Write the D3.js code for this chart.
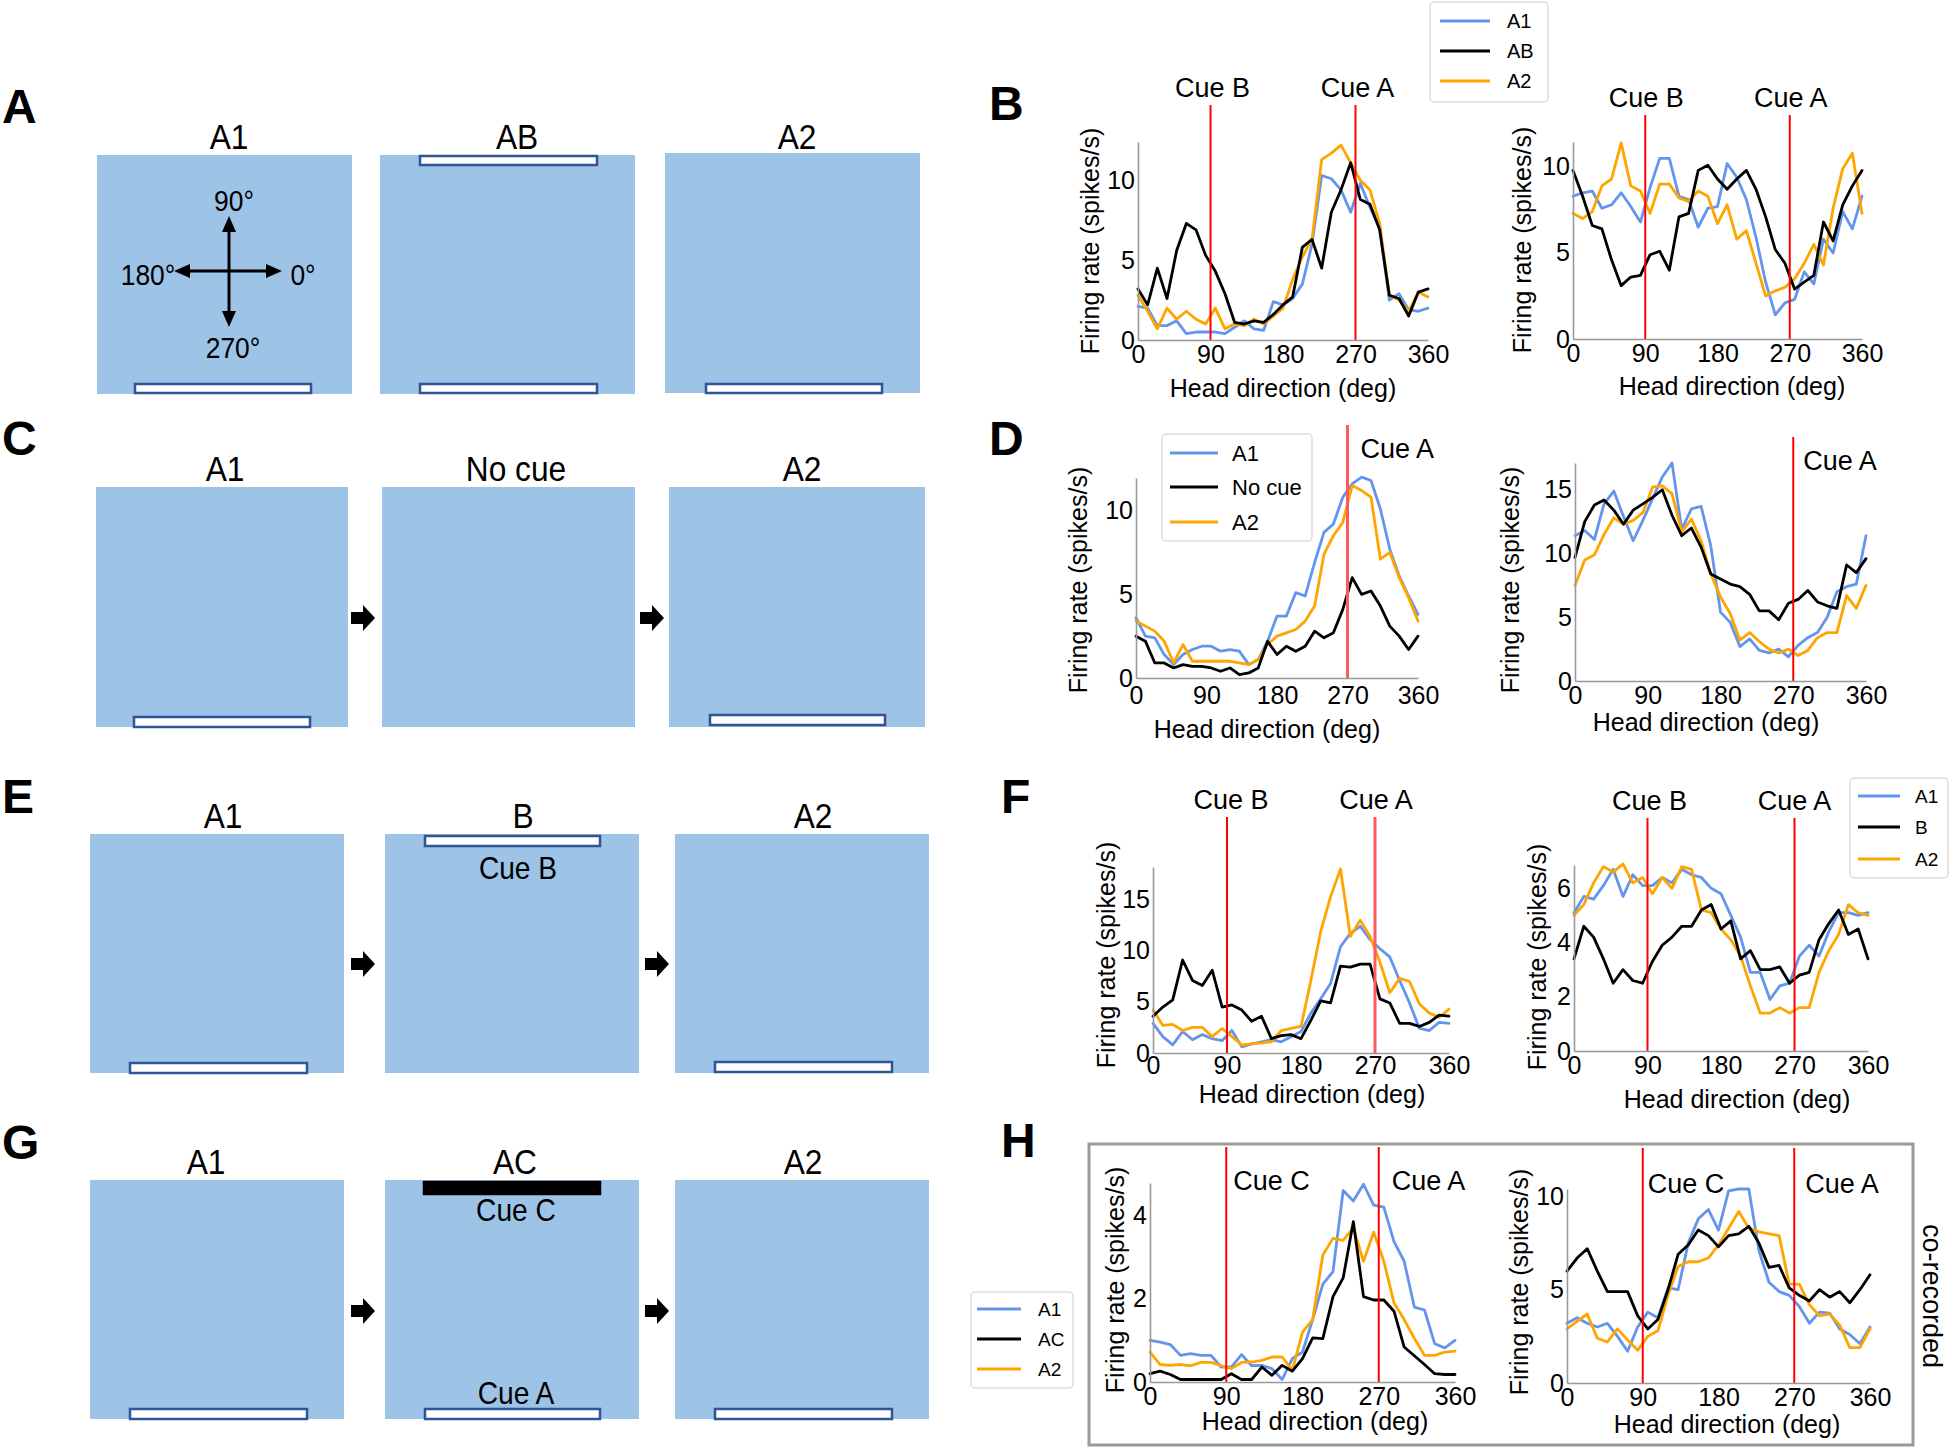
<!DOCTYPE html>
<html><head><meta charset="utf-8">
<script src="https://cdn.jsdelivr.net/npm/d3@7"></script>
<style>
body{margin:0;background:#fff;}
svg{display:block;}
text{font-family:"Liberation Sans",Arial,Helvetica,sans-serif;fill:#000;}
</style>
</head><body>
<svg id="fig" width="1950" height="1447"></svg>
<script>
// ---------- DATA ----------
const angles = [0,12,24,36,48,60,72,84,96,108,120,132,144,156,168,180,192,204,216,228,240,252,264,276,288,300,312,324,336,348,360];
const xTickValues = [0,90,180,270,360];

// Panel B
const bLeftA1 = [2.1,2.0,0.9,0.9,1.2,0.4,0.5,0.5,0.5,0.4,0.8,1.2,0.7,0.6,2.4,2.2,2.6,3.5,6.0,10.3,10.1,9.4,8.0,9.8,8.3,7.0,2.5,2.9,1.9,1.8,2.0];
const bLeftAB = [3.2,2.2,4.5,2.6,5.6,7.3,6.9,5.3,4.3,2.9,1.1,1.0,1.2,1.1,1.6,2.2,2.7,5.8,6.3,4.5,8.0,9.4,11.1,8.8,8.5,6.9,2.8,2.6,1.5,3.0,3.2];
const bLeftA2 = [2.8,1.8,0.7,2.0,1.3,1.8,1.3,1.0,2.0,0.7,1.0,0.9,1.3,1.0,1.5,2.0,3.8,5.2,6.3,11.3,11.7,12.2,11.1,10.0,9.4,7.3,2.8,2.5,1.8,3.0,2.7];
const bRightA1 = [8.3,8.5,8.6,7.6,7.8,8.5,7.7,6.8,8.8,10.5,10.5,8.3,8.1,6.5,7.6,7.7,10.2,9.4,8.1,5.9,3.3,1.4,2.1,2.3,3.9,3.2,5.8,5.0,7.4,6.4,8.3];
const bRightAB = [9.8,8.3,6.6,6.4,4.6,3.1,3.6,3.7,4.9,5.1,4.0,7.1,7.3,9.8,10.1,9.3,8.7,9.3,9.8,8.7,7.1,5.2,4.4,2.9,3.3,3.7,6.8,5.7,7.8,8.9,9.8];
const bRightA2 = [7.3,7.0,7.4,8.9,9.3,11.4,8.9,8.6,7.3,9.0,9.0,8.2,8.0,8.6,8.3,6.7,7.8,5.8,6.3,4.4,2.5,2.8,3.0,3.5,4.4,5.5,4.3,7.6,9.9,10.8,7.3];

// Panel D
const dLeftA1 = [3.6,2.5,2.4,1.4,0.8,1.4,1.7,1.9,1.9,1.6,1.7,1.6,0.8,1.1,2.2,3.7,3.7,5.1,4.9,6.9,8.7,9.2,10.8,11.6,12.0,11.8,10.1,7.7,6.1,4.9,3.8];
const dLeftNoCue = [2.5,2.2,0.9,0.9,0.6,0.8,0.7,0.7,0.6,0.4,0.6,0.2,0.3,0.6,2.2,1.4,1.9,1.6,1.9,2.8,2.4,2.7,4.1,6.0,5.0,5.2,4.3,3.1,2.5,1.7,2.5];
const dLeftA2 = [3.4,3.1,2.8,2.2,0.9,2.0,1.0,1.0,1.0,1.0,1.0,0.9,0.8,1.1,2.0,2.5,2.7,2.9,3.4,4.3,7.4,8.5,9.3,11.5,11.2,10.8,7.1,7.5,6.0,4.8,3.4];
const dRightA1 = [11.4,11.8,11.1,13.9,14.9,12.9,11.0,12.6,14.3,16.0,17.1,11.9,13.5,13.7,10.6,5.4,4.6,2.7,3.3,2.4,2.2,2.5,1.9,2.8,3.4,3.8,5.0,7.0,7.4,7.6,11.4];
const dRightNoCue = [9.7,12.5,13.8,14.2,13.4,12.3,13.4,13.9,14.4,15.0,13.0,11.4,12.0,10.5,8.4,8.0,7.6,7.4,6.8,5.5,5.5,4.8,6.1,6.4,7.1,6.2,5.9,5.7,9.1,8.5,9.6];
const dRightA2 = [7.5,9.5,9.9,11.5,12.8,12.3,12.6,13.2,15.2,15.3,14.7,11.7,12.7,11.0,8.4,6.6,5.3,3.2,3.8,3.1,2.5,2.2,2.5,2.0,2.4,3.4,3.8,3.8,6.7,5.7,7.5];

// Panel F
const fLeftA1 = [2.9,1.6,0.8,2.1,1.3,1.8,1.4,1.2,2.2,0.6,0.9,1.1,1.3,1.1,1.6,2.1,3.9,5.3,6.8,10.4,11.7,12.4,11.1,10.2,9.4,7.1,4.9,2.4,2.2,3.0,2.9];
const fLeftB = [3.6,4.5,5.2,9.1,7.1,6.6,8.1,4.5,4.7,4.2,3.1,3.6,1.4,1.7,1.8,1.4,3.2,5.1,4.9,8.5,8.4,8.7,8.7,5.3,4.9,2.9,2.9,2.6,3.0,3.7,3.6];
const fLeftA2 = [4.2,2.7,2.8,2.2,2.5,2.5,1.6,2.4,1.6,0.8,0.9,1.0,1.1,2.2,2.4,2.6,7.1,11.9,15.3,18.0,11.4,13.0,11.4,8.9,5.9,7.3,7.0,4.8,3.9,3.5,4.3];
const fRightA1 = [5.1,5.7,5.6,6.1,6.7,5.7,6.5,6.1,6.1,6.4,6.2,6.7,6.5,6.4,6.0,5.8,5.0,4.2,2.9,2.9,1.9,2.4,2.5,3.5,3.9,3.5,4.4,5.1,5.1,5.0,5.1];
const fRightB = [3.4,4.6,4.2,3.4,2.5,3.0,2.6,2.5,3.3,3.9,4.2,4.6,4.6,5.2,5.4,4.5,4.8,3.4,3.7,3.0,3.0,3.1,2.5,2.8,2.9,4.1,4.7,5.2,4.3,4.5,3.4];
const fRightA2 = [5.0,5.4,6.2,6.8,6.6,6.9,6.2,6.4,5.8,6.4,6.0,6.8,6.7,5.2,5.1,4.5,4.1,3.5,2.4,1.4,1.4,1.6,1.4,1.6,1.6,2.9,3.7,4.3,5.4,5.1,5.0];

// Panel H
const hLeftA1 = [1.0,0.96,0.9,0.64,0.68,0.64,0.64,0.36,0.36,0.66,0.39,0.4,0.32,0.06,0.56,0.72,1.5,2.35,2.65,4.6,4.35,4.75,4.25,4.2,3.37,2.9,1.8,1.73,0.92,0.82,1.0];
const hLeftAC = [0.2,0.26,0.18,0.06,0.06,0.06,0.06,0.06,0.2,0.06,0.06,0.36,0.16,0.4,0.26,0.56,1.06,1.04,2.05,2.5,3.85,2.05,1.97,1.97,1.7,0.84,0.63,0.42,0.2,0.18,0.18];
const hLeftA2 = [0.72,0.42,0.4,0.42,0.39,0.47,0.47,0.39,0.32,0.47,0.48,0.52,0.6,0.6,0.28,1.2,1.5,3.05,3.45,3.4,3.7,2.9,3.6,2.9,1.9,1.5,1.05,0.64,0.64,0.72,0.74];
const hRightA1 = [3.2,3.5,3.2,3.0,3.2,2.5,1.7,3.0,3.8,3.5,5.1,5.0,7.5,8.8,9.3,8.2,10.3,10.4,10.4,7.1,5.4,4.9,4.7,4.1,3.2,3.8,3.75,2.9,2.6,2.1,3.0];
const hRightAC = [6.0,6.7,7.2,6.0,4.9,4.9,4.9,3.6,2.9,3.4,5.0,6.9,7.4,8.2,7.9,7.3,7.9,8.0,8.4,7.5,6.2,6.3,5.1,4.7,4.4,5.0,4.6,4.9,4.3,5.0,5.8];
const hRightA2 = [2.9,3.3,3.7,2.4,2.2,2.9,2.3,1.75,2.5,2.8,4.7,6.25,6.5,6.5,6.7,7.4,8.3,9.2,8.3,8.1,8.0,7.9,5.3,5.3,4.2,3.6,3.7,3.1,1.9,1.9,2.9];

// legend labels
const legendB = ["A1","AB","A2"];
const legendD = ["A1","No cue","A2"];
const legendF = ["A1","B","A2"];
const legendH = ["A1","AC","A2"];
const panelLetters = ["A","B","C","D","E","F","G","H"];

// ---------- STYLE ----------
const COLORS = ["#6495ED","#000000","#FFA500"];
const BOXFILL = "#9DC3E6";
const BARSTROKE = "#2F5597";
const FS = 25;

const svg = d3.select("#fig");

// ---------- PLOTS ----------
const plots = [
 {x0:1138,x1:1428,y0:340,yTop:142,yMax:12.4,yTicks:[0,5,10],data:[bLeftA1,bLeftAB,bLeftA2],redTop:105,
  cues:[{deg:90,text:"Cue B",anchor:"middle",dx:2,y:97},{deg:270,text:"Cue A",anchor:"middle",dx:2,y:97}],yl:[1090,241],xl:[1283,397],xPad:5},
 {x0:1573,x1:1862,y0:339,yTop:142,yMax:11.45,yTicks:[0,5,10],data:[bRightA1,bRightAB,bRightA2],redTop:115,
  cues:[{deg:90,text:"Cue B",anchor:"middle",dx:1,y:107},{deg:270,text:"Cue A",anchor:"middle",dx:1,y:107}],yl:[1522,240],xl:[1732,395],xPad:5},
 {x0:1136,x1:1418,y0:678,yTop:478,yMax:11.95,yTicks:[0,5,10],data:[dLeftA1,dLeftNoCue,dLeftA2],redTop:425,
  cues:[{deg:270,text:"Cue A",anchor:"start",dx:13,y:458,soft:true}],yl:[1078,580],xl:[1267,738],xPad:8},
 {x0:1575,x1:1866,y0:681,yTop:463,yMax:17.1,yTicks:[0,5,10,15],data:[dRightA1,dRightNoCue,dRightA2],redTop:437,
  cues:[{deg:270,text:"Cue A",anchor:"start",dx:10,y:470}],yl:[1510,580],xl:[1706,731],xPad:5},
 {x0:1153,x1:1449,y0:1053,yTop:867,yMax:18.2,yTicks:[0,5,10,15],data:[fLeftA1,fLeftB,fLeftA2],redTop:817,
  cues:[{deg:90,text:"Cue B",anchor:"middle",dx:4,y:809},{deg:270,text:"Cue A",anchor:"middle",dx:1,y:809,soft:true}],yl:[1106,955],xl:[1312,1103],xPad:3},
 {x0:1574,x1:1868,y0:1051,yTop:865,yMax:6.86,yTicks:[0,2,4,6],data:[fRightA1,fRightB,fRightA2],redTop:818,
  cues:[{deg:90,text:"Cue B",anchor:"middle",dx:2,y:810},{deg:270,text:"Cue A",anchor:"middle",dx:0,y:810}],yl:[1537,957],xl:[1737,1108],xPad:5},
 {x0:1150,x1:1455,y0:1382,yTop:1183,yMax:4.78,yTicks:[0,2,4],data:[hLeftA1,hLeftAC,hLeftA2],redTop:1147,
  cues:[{deg:90,text:"Cue C",anchor:"start",dx:7,y:1190},{deg:270,text:"Cue A",anchor:"start",dx:13,y:1190}],yl:[1115,1280],xl:[1315,1430],xPad:5},
 {x0:1567,x1:1870,y0:1383,yTop:1189,yMax:10.4,yTicks:[0,5,10],data:[hRightA1,hRightAC,hRightA2],redTop:1148,
  cues:[{deg:90,text:"Cue C",anchor:"start",dx:5,y:1193},{deg:270,text:"Cue A",anchor:"start",dx:11,y:1193}],yl:[1519,1282],xl:[1727,1433],xPad:5}
];

function drawPlot(p){
  const x = d3.scaleLinear().domain([0,360]).range([p.x0,p.x1]);
  const y = d3.scaleLinear().domain([0,p.yMax]).range([p.y0,p.yTop]);
  const g = svg.append("g");
  const line = d3.line().x((d,i)=>x(angles[i])).y(d=>y(d));
  [0,2,1].forEach(k=>{
    g.append("path").datum(p.data[k]).attr("d",line)
      .attr("fill","none").attr("stroke",COLORS[k]).attr("stroke-width",2.8)
      .attr("stroke-linejoin","round").attr("stroke-linecap","round");
  });
  p.cues.forEach(c=>{
    g.append("line").attr("x1",x(c.deg)).attr("x2",x(c.deg))
      .attr("y1",p.redTop).attr("y2",p.y0)
      .attr("stroke",c.soft?"#ff5a5a":"#ff0000").attr("stroke-width",c.soft?3:2);
    g.append("text").attr("x",x(c.deg)+c.dx).attr("y",c.y).attr("text-anchor",c.anchor)
      .attr("font-size",27).text(c.text);
  });
  const ax = g.append("g").attr("transform",`translate(0,${p.y0})`)
    .call(d3.axisBottom(x).tickValues(xTickValues).tickSize(0).tickSizeOuter(0).tickPadding(p.xPad).tickFormat(d3.format("d")));
  const ay = g.append("g").attr("transform",`translate(${p.x0},0)`)
    .call(d3.axisLeft(y).tickValues(p.yTicks).tickSize(0).tickSizeOuter(0).tickPadding(3).tickFormat(d3.format("d")));
  [ax,ay].forEach(a=>{
    a.attr("font-size",FS).attr("font-family",'"Liberation Sans",Arial,sans-serif');
    a.select(".domain").attr("stroke","#999").attr("stroke-width",1.6);
    a.selectAll("text").attr("fill","#000");
  });
  g.append("text").attr("x",p.xl[0]).attr("y",p.xl[1]).attr("text-anchor","middle")
    .attr("font-size",FS).text("Head direction (deg)");
  g.append("text").attr("transform",`translate(${p.yl[0]},${p.yl[1]}) rotate(-90)`)
    .attr("text-anchor","middle").attr("dy","0.35em").attr("font-size",FS).text("Firing rate (spikes/s)");
}
plots.forEach(drawPlot);

// ---------- LEGENDS ----------
const legends = [
  {labels:legendB, box:[1430,2,118,100], lx:[1440,1490], tx:1507, rows:[21,51,81], fs:20},
  {labels:legendD, box:[1162,434,150,107], lx:[1170,1218], tx:1232, rows:[453,487,522], fs:22},
  {labels:legendF, box:[1850,778,98,100], lx:[1858,1900], tx:1915, rows:[796,827,859], fs:19},
  {labels:legendH, box:[971,1292,102,96], lx:[977,1021], tx:1038, rows:[1309,1339,1369], fs:19}
];
legends.forEach(l=>{
  const g = svg.append("g");
  g.append("rect").attr("x",l.box[0]).attr("y",l.box[1]).attr("width",l.box[2]).attr("height",l.box[3])
    .attr("rx",4).attr("fill","#fff").attr("fill-opacity",0.85).attr("stroke","#dddddd").attr("stroke-width",1.5);
  l.labels.forEach((lab,i)=>{
    g.append("line").attr("x1",l.lx[0]).attr("x2",l.lx[1]).attr("y1",l.rows[i]).attr("y2",l.rows[i])
      .attr("stroke",COLORS[i]).attr("stroke-width",3);
    g.append("text").attr("x",l.tx).attr("y",l.rows[i]).attr("dy","0.35em").attr("font-size",l.fs)
      .attr("fill","#333").text(lab);
  });
});

// H frame + co-recorded
svg.append("rect").attr("x",1089).attr("y",1144).attr("width",824).attr("height",301)
  .attr("fill","none").attr("stroke","#999").attr("stroke-width",3);
svg.append("text").attr("transform","translate(1932,1296) rotate(90)").attr("text-anchor","middle")
  .attr("dy","0.35em").attr("font-size",27).text("co-recorded");

// ---------- PANEL LETTERS ----------
const letterPos = [[2,123],[989,120],[2,455],[989,455],[2,813],[1001,813],[2,1159],[1001,1157]];
panelLetters.forEach((L,i)=>{
  svg.append("text").attr("x",letterPos[i][0]).attr("y",letterPos[i][1])
    .attr("font-size",48).attr("font-weight","bold").text(L);
});

// ---------- SCHEMATICS ----------
function ntext(x,y,str,size){
  svg.append("text").attr("transform",`translate(${x},${y}) scale(0.88,1)`)
    .attr("text-anchor","middle").attr("font-size",size).text(str);
}
function arena(x,y,w,h){
  svg.append("rect").attr("x",x).attr("y",y).attr("width",w).attr("height",h).attr("fill",BOXFILL);
}
function cueBar(x1,x2,y1,y2,black){
  svg.append("rect").attr("x",x1).attr("y",y1).attr("width",x2-x1).attr("height",y2-y1)
    .attr("fill",black?"#000":"#fff").attr("stroke",black?"#000":BARSTROKE).attr("stroke-width",2.5);
}
function blockArrow(cx,cy){
  const pts=[[-12,-6],[0,-6],[0,-13],[12,0],[0,13],[0,6],[-12,6]].map(p=>[cx+p[0],cy+p[1]]);
  svg.append("polygon").attr("points",pts.map(p=>p.join(",")).join(" ")).attr("fill","#000");
}

// Row A
arena(97,155,255,239); arena(380,155,255,239); arena(665,153,255,240);
ntext(229,149,"A1",36); ntext(517,149,"AB",36); ntext(797,149,"A2",36);
cueBar(135,311,384,393); cueBar(420,597,156,165); cueBar(420,597,384,393); cueBar(706,882,384,393);
// compass
svg.append("line").attr("x1",229).attr("x2",229).attr("y1",226).attr("y2",317).attr("stroke","#000").attr("stroke-width",3);
svg.append("line").attr("x1",184).attr("x2",272).attr("y1",271).attr("y2",271).attr("stroke","#000").attr("stroke-width",3);
const heads = [[[229,216],[222,232],[236,232]],[[229,327],[222,311],[236,311]],[[174,271],[190,264],[190,278]],[[282,271],[266,264],[266,278]]];
heads.forEach(h=>svg.append("polygon").attr("points",h.map(p=>p.join(",")).join(" ")).attr("fill","#000"));
ntext(234,211,"90°",30); ntext(233,358,"270°",30); ntext(148,285,"180°",30); ntext(303,285,"0°",30);

// Row C
arena(96,487,252,240); arena(382,487,253,240); arena(669,487,256,240);
ntext(225,481,"A1",36); ntext(516,481,"No cue",36); ntext(802,481,"A2",36);
cueBar(134,310,717,727); cueBar(710,885,715,725);
blockArrow(363,618); blockArrow(652,618);

// Row E
arena(90,834,254,239); arena(385,834,254,239); arena(675,834,254,239);
ntext(223,828,"A1",36); ntext(523,828,"B",36); ntext(813,828,"A2",36);
cueBar(425,600,836,846); ntext(518,879,"Cue B",32);
cueBar(130,307,1063,1073); cueBar(715,892,1062,1072);
blockArrow(363,964); blockArrow(657,964);

// Row G
arena(90,1180,254,239); arena(385,1180,254,239); arena(675,1180,254,239);
ntext(206,1174,"A1",36); ntext(515,1174,"AC",36); ntext(803,1174,"A2",36);
cueBar(424,600,1182,1194,true); ntext(516,1221,"Cue C",32);
cueBar(425,600,1409,1419); ntext(516,1404,"Cue A",32);
cueBar(130,307,1409,1419); cueBar(715,892,1409,1419);
blockArrow(363,1311); blockArrow(657,1311);
</script>
</body></html>
